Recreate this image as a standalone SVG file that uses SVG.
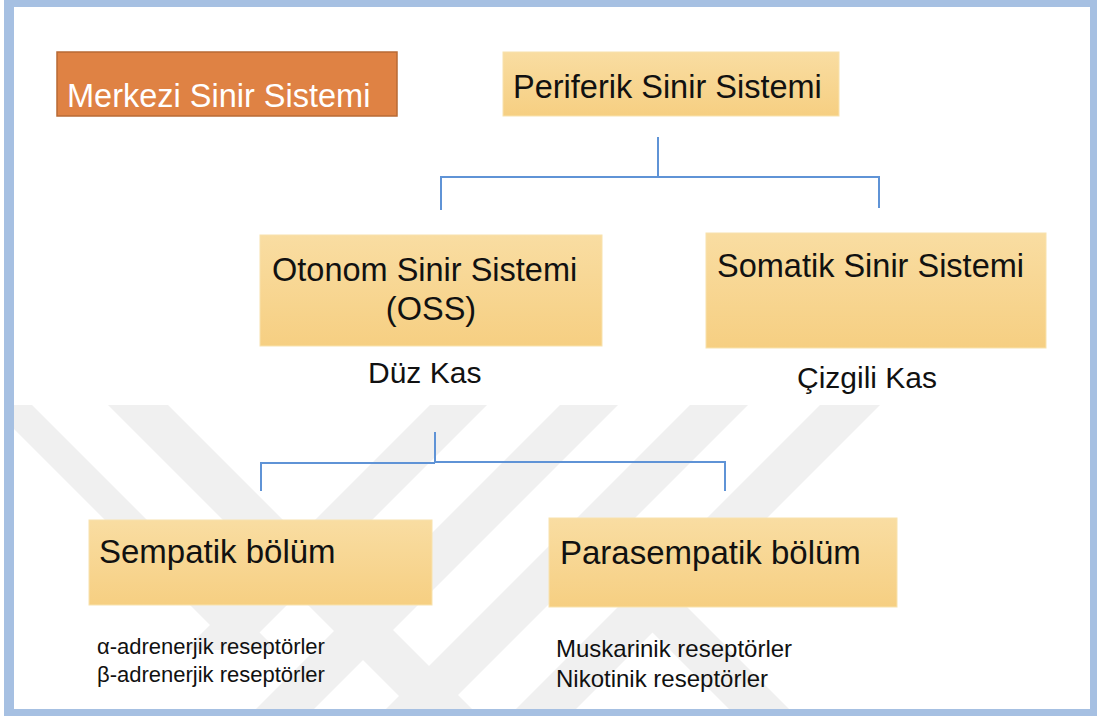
<svg xmlns="http://www.w3.org/2000/svg" width="1097" height="716" viewBox="0 0 1097 716">
  <defs>
    <linearGradient id="gold" x1="0" y1="0" x2="0" y2="1">
      <stop offset="0" stop-color="#f9dda2"/>
      <stop offset="1" stop-color="#f6cf82"/>
    </linearGradient>
    <clipPath id="wmclip">
      <rect x="14" y="405" width="1076" height="304"/>
    </clipPath>
    <style>
      .box { fill: url(#gold); stroke: #f8e2ad; stroke-width: 1; }
      .lbl { font-family: "Liberation Sans", Arial, sans-serif; font-size: 32.5px; fill: #111111; }
      .sub { font-family: "Liberation Sans", Arial, sans-serif; font-size: 30px; fill: #111111; }
      .small { font-family: "Liberation Sans", Arial, sans-serif; font-size: 22px; fill: #111111; }
      .conn { fill: none; stroke: #5f93d6; stroke-width: 2; }
      .wm { fill: #f0f0f0; }
    </style>
  </defs>

  <rect x="0" y="0" width="1097" height="716" fill="#ffffff"/>

  <!-- watermark -->
  <g id="watermark" clip-path="url(#wmclip)">
    <polygon class="wm" points="-10,405 32,405 277,650 235,650"/>
    <polygon class="wm" points="108,405 168,405 472,709 412,709"/>
    <polygon class="wm" points="430,405 487,405 242,650 185,650"/>
    <polygon class="wm" points="560,405 618,405 314,709 256,709"/>
    <polygon class="wm" points="690,405 748,405 444,709 386,709"/>
    <polygon class="wm" points="820,405 880,405 576,709 516,709"/>
    <polygon class="wm" points="620,600 680,600 789,709 729,709"/>
  </g>

  <!-- frame -->
  <path d="M4,0 H1097 V716 H4 Z M14,7 V709 H1090 V7 Z" fill="#a6c0e2" fill-rule="evenodd"/>

  <!-- connectors -->
  <g id="connectors">
    <line class="conn" x1="658" y1="137" x2="658" y2="177" stroke-width="3"/>
    <polyline class="conn" points="441,210 441,177 879,177 879,208"/>
    <line class="conn" x1="435" y1="432" x2="435" y2="463"/>
    <polyline class="conn" points="261,491 261,463 435,463"/>
    <polyline class="conn" points="435,462 725,462 725,491"/>
  </g>

  <g id="merkezi">
    <rect x="57" y="52" width="340" height="64" fill="#df8244" stroke="#b86a35" stroke-width="1.5"/>
    <text x="67" y="107" class="lbl" style="fill:#ffffff">Merkezi Sinir Sistemi</text>
  </g>

  <g id="periferik">
    <rect class="box" x="503" y="52" width="336" height="64"/>
    <text x="513" y="98" class="lbl">Periferik Sinir Sistemi</text>
  </g>

  <g id="otonom">
    <rect class="box" x="260" y="235" width="342" height="111"/>
    <text x="272" y="281" class="lbl">Otonom Sinir Sistemi</text>
    <text x="431" y="320" class="lbl" text-anchor="middle">(OSS)</text>
    <text x="368" y="383" class="sub">Düz Kas</text>
  </g>

  <g id="somatik">
    <rect class="box" x="706" y="233" width="340" height="115"/>
    <text x="717" y="277" class="lbl">Somatik Sinir Sistemi</text>
    <text x="797" y="388" class="sub">Çizgili Kas</text>
  </g>

  <g id="sempatik">
    <rect class="box" x="89" y="520" width="343" height="85"/>
    <text x="99" y="563" class="lbl" style="font-size:33px">Sempatik bölüm</text>
    <text x="97" y="654" class="small">α-adrenerjik reseptörler</text>
    <text x="97" y="682" class="small">β-adrenerjik reseptörler</text>
  </g>

  <g id="parasempatik">
    <rect class="box" x="549" y="518" width="348" height="89"/>
    <text x="560" y="564" class="lbl" style="font-size:33px">Parasempatik bölüm</text>
    <text x="556" y="657" class="small" style="font-size:24px">Muskarinik reseptörler</text>
    <text x="556" y="687" class="small" style="font-size:24px">Nikotinik reseptörler</text>
  </g>
</svg>
